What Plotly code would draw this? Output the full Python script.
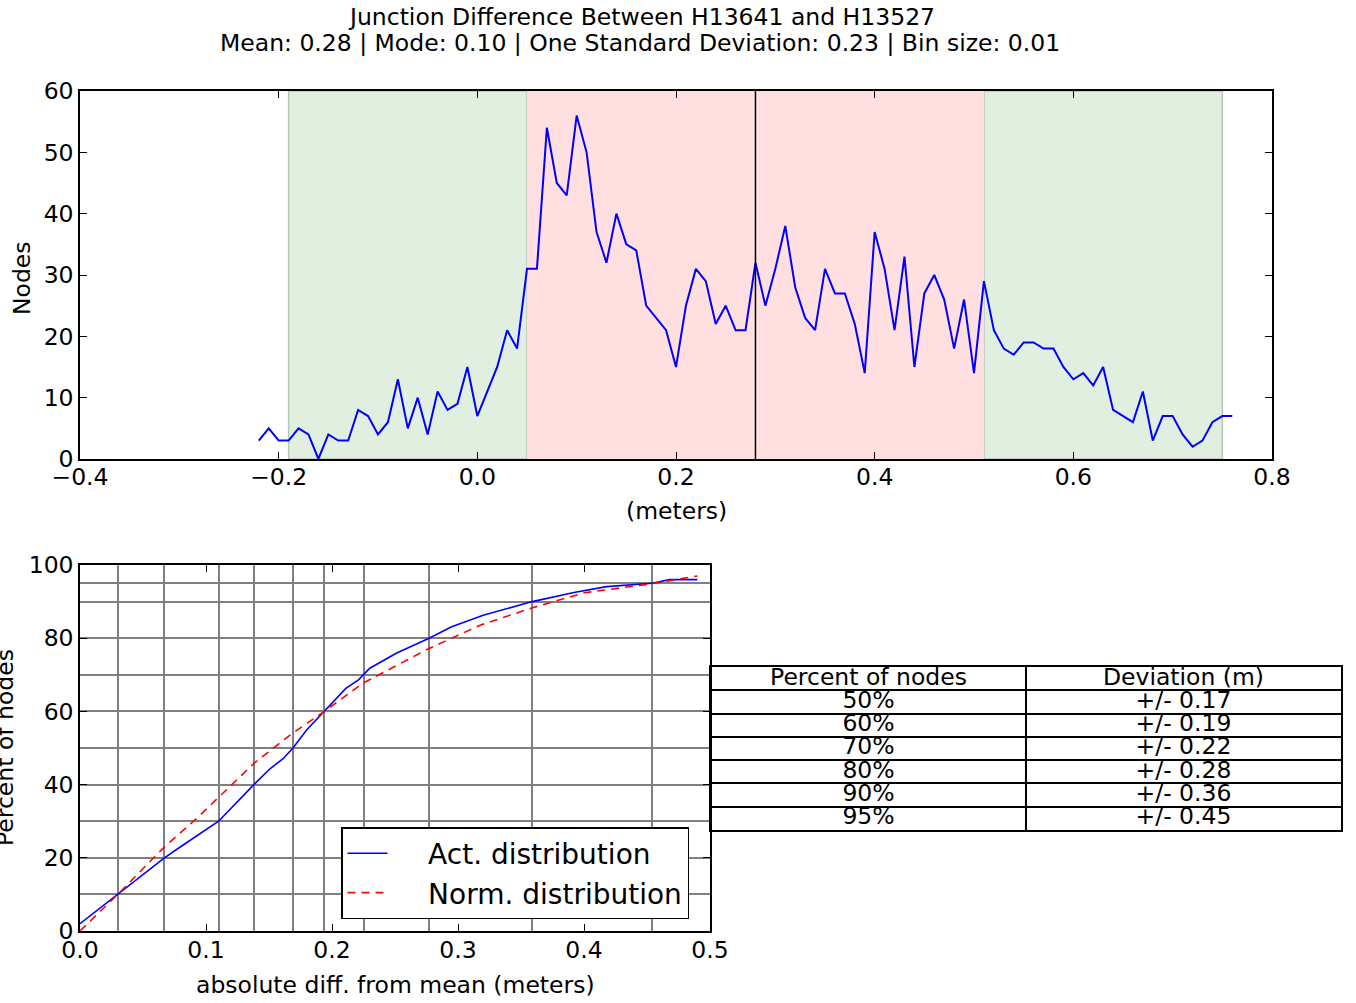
import plotly.graph_objects as go

# ---------------- data ----------------
bin_x = [-0.22, -0.21, -0.20, -0.19, -0.18, -0.17, -0.16, -0.15, -0.14, -0.13,
         -0.12, -0.11, -0.10, -0.09, -0.08, -0.07, -0.06, -0.05, -0.04, -0.03,
         -0.02, -0.01, 0.00, 0.01, 0.02, 0.03, 0.04, 0.05, 0.06, 0.07,
         0.08, 0.09, 0.10, 0.11, 0.12, 0.13, 0.14, 0.15, 0.16, 0.17,
         0.18, 0.19, 0.20, 0.21, 0.22, 0.23, 0.24, 0.25, 0.26, 0.27,
         0.28, 0.29, 0.30, 0.31, 0.32, 0.33, 0.34, 0.35, 0.36, 0.37,
         0.38, 0.39, 0.40, 0.41, 0.42, 0.43, 0.44, 0.45, 0.46, 0.47,
         0.48, 0.49, 0.50, 0.51, 0.52, 0.53, 0.54, 0.55, 0.56, 0.57,
         0.58, 0.59, 0.60, 0.61, 0.62, 0.63, 0.64, 0.65, 0.66, 0.67,
         0.68, 0.69, 0.70, 0.71, 0.72, 0.73, 0.74, 0.75, 0.76]
node_counts = [3, 5, 3, 3, 5, 4, 0, 4, 3, 3,
               8, 7, 4, 6, 13, 5, 10, 4, 11, 8,
               9, 15, 7, 11, 15, 21, 18, 31, 31, 54,
               45, 43, 56, 50, 37, 32, 40, 35, 34, 25,
               23, 21, 15, 25, 31, 29, 22, 25, 21, 21,
               32, 25, 31, 38, 28, 23, 21, 31, 27, 27,
               22, 14, 37, 31, 21, 33, 15, 27, 30, 26,
               18, 26, 14, 29, 21, 18, 17, 19, 19, 18,
               18, 15, 13, 14, 12, 15, 8, 7, 6, 11,
               3, 7, 7, 4, 2, 3, 6, 7, 7]

mean_value = 0.28
one_sd_band = [0.05, 0.51]
two_sd_band = [-0.19, 0.75]

act_x = [0.0, 0.030, 0.067, 0.081, 0.110, 0.138, 0.151, 0.161, 0.169, 0.180,
         0.194, 0.211, 0.221, 0.230, 0.251, 0.277, 0.295, 0.320, 0.359, 0.380,
         0.392, 0.418, 0.454, 0.468, 0.490]
act_y = [2.0, 10.0, 20.0, 23.3, 30.0, 40.0, 44.4, 47.0, 50.0, 55.0,
         60.0, 66.3, 68.6, 71.8, 75.9, 80.0, 83.1, 86.3, 90.0, 91.5,
         92.5, 94.1, 95.0, 96.0, 96.0]
norm_x = [0.0, 0.030, 0.067, 0.094, 0.110, 0.138, 0.167, 0.194, 0.225, 0.277,
          0.318, 0.359, 0.400, 0.454, 0.490]
norm_y = [0.0, 10.0, 23.0, 31.2, 36.5, 45.8, 53.6, 60.0, 67.8, 77.2,
          83.6, 88.3, 92.4, 94.9, 97.0]

pct_levels = [10, 20, 30, 40, 50, 60, 70, 80, 90, 95]
pct_devs = [0.030, 0.067, 0.110, 0.138, 0.169, 0.194, 0.225, 0.277, 0.359, 0.454]

table_header = ["Percent of nodes", "Deviation (m)"]
table_pct = ["50%", "60%", "70%", "80%", "90%", "95%"]
table_dev = ["+/- 0.17", "+/- 0.19", "+/- 0.22", "+/- 0.28", "+/- 0.36", "+/- 0.45"]

top_xticks = [-0.4, -0.2, 0.0, 0.2, 0.4, 0.6, 0.8]
top_xtick_text = ["\u22120.4", "\u22120.2", "0.0", "0.2", "0.4", "0.6", "0.8"]

# ---------------- layout helpers ----------------
W, H = 1356, 1003
def px_x(p):
    return p / W
def px_y(p):
    return 1 - p / H

FONT = "DejaVu Sans"
FS = 23.5

fig = go.Figure()

fig.add_trace(go.Scatter(x=bin_x, y=node_counts, mode="lines",
                         line=dict(color="#0000ff", width=2),
                         xaxis="x", yaxis="y", showlegend=False))

fig.add_trace(go.Scatter(x=act_x, y=act_y, mode="lines",
                         name="\u00a0\u00a0\u00a0\u00a0Act. distribution",
                         line=dict(color="#0000ff", width=1.6),
                         xaxis="x2", yaxis="y2"))
fig.add_trace(go.Scatter(x=norm_x, y=norm_y, mode="lines",
                         name="\u00a0\u00a0\u00a0\u00a0Norm. distribution",
                         line=dict(color="#ff0000", width=1.6, dash="8px,6px"),
                         xaxis="x2", yaxis="y2"))

# table drawn as text on its own row/column axes
col0 = [table_header[0]] + table_pct
col1 = [table_header[1]] + table_dev
rows = [i + 0.5 for i in range(len(col0))]
fig.add_trace(go.Scatter(x=[0.5] * len(col0), y=rows, text=col0, mode="text",
                         textposition="middle center",
                         textfont=dict(family=FONT, size=FS, color="black"),
                         xaxis="x3", yaxis="y3", showlegend=False, hoverinfo="skip"))
fig.add_trace(go.Scatter(x=[1.5] * len(col1), y=rows, text=col1, mode="text",
                         textposition="middle center",
                         textfont=dict(family=FONT, size=FS, color="black"),
                         xaxis="x3", yaxis="y3", showlegend=False, hoverinfo="skip"))

axis_common = dict(showline=True, linecolor="black", linewidth=1.5, mirror="ticks",
                   ticks="inside", ticklen=7, tickwidth=1.2, tickcolor="black",
                   zeroline=False, showgrid=False, automargin=False,
                   tickfont=dict(family=FONT, size=FS, color="black"))

table_axis = dict(showline=True, linecolor="black", linewidth=1.5, mirror=True,
                  ticks="", showticklabels=False, zeroline=False, automargin=False,
                  showgrid=True, gridcolor="black", gridwidth=1.5, fixedrange=True)

shapes = [
    dict(type="rect", xref="x", yref="y domain", x0=two_sd_band[0], x1=one_sd_band[0],
         y0=0, y1=1, fillcolor="#e0efe0", line=dict(color="#b8c8b8", width=1.5), layer="below"),
    dict(type="rect", xref="x", yref="y domain", x0=one_sd_band[1], x1=two_sd_band[1],
         y0=0, y1=1, fillcolor="#e0efe0", line=dict(color="#b8c8b8", width=1.5), layer="below"),
    dict(type="rect", xref="x", yref="y domain", x0=one_sd_band[0], x1=one_sd_band[1],
         y0=0, y1=1, fillcolor="#ffdfdf", line=dict(width=0), layer="below"),
    dict(type="line", xref="x", yref="y domain", x0=mean_value, x1=mean_value,
         y0=0, y1=1, line=dict(color="black", width=1.5)),
]

def label(text, x, y, angle=0):
    return dict(text=text, xref="paper", yref="paper", x=px_x(x), y=px_y(y),
                xanchor="center", yanchor="middle", textangle=angle, showarrow=False,
                font=dict(family=FONT, size=FS, color="black"))

annotations = [
    label("Junction Difference Between H13641 and H13527", 641, 17),
    label("Mean: 0.28 | Mode: 0.10 | One Standard Deviation: 0.23 | Bin size: 0.01", 640, 43),
    label("Nodes", 22, 278, -90),
    label("(meters)", 676, 511),
    label("Percent of nodes", 5, 748, -90),
    label("absolute diff. from mean (meters)", 395, 985),
]

fig.update_layout(
    width=W, height=H, autosize=False,
    margin=dict(l=0, r=0, t=0, b=0, pad=0, autoexpand=False),
    paper_bgcolor="white", plot_bgcolor="white",
    font=dict(family=FONT, size=FS, color="black"),
    xaxis=dict(domain=[px_x(80), px_x(1272)], range=[-0.4, 0.8], anchor="y",
               tickmode="array", tickvals=top_xticks, ticktext=top_xtick_text,
               ticklabelstandoff=-4, **axis_common),
    yaxis=dict(domain=[px_y(459), px_y(91)], range=[0, 60], anchor="x",
               tickmode="array", tickvals=[0, 10, 20, 30, 40, 50, 60], **axis_common),
    xaxis2=dict(domain=[px_x(80), px_x(710)], range=[0, 0.5], anchor="y2",
                tickmode="array", tickvals=[0, 0.1, 0.2, 0.3, 0.4, 0.5], tickformat=".1f",
                ticklabelstandoff=-3,
                minor=dict(tickmode="array", tickvals=pct_devs, showgrid=True,
                           gridcolor="#808080", gridwidth=1.5, ticks=""),
                **axis_common),
    yaxis2=dict(domain=[px_y(931), px_y(565)], range=[0, 100], anchor="x2",
                tickmode="array", tickvals=[0, 20, 40, 60, 80, 100],
                minor=dict(tickmode="array", tickvals=pct_levels, showgrid=True,
                           gridcolor="#808080", gridwidth=1.5, ticks=""),
                **axis_common),
    xaxis3=dict(domain=[px_x(711), px_x(1341)], range=[0, 2], anchor="y3",
                tickmode="array", tickvals=[1], **table_axis),
    yaxis3=dict(domain=[px_y(830), px_y(667)], range=[len(col0), 0], anchor="x3",
                tickmode="array", tickvals=list(range(1, len(col0))), **table_axis),
    legend=dict(x=px_x(341), y=px_y(827), xanchor="left", yanchor="top",
                bgcolor="white", bordercolor="black", borderwidth=1.5,
                font=dict(family=FONT, size=28, color="black"),
                itemwidth=40, tracegroupgap=4),
    shapes=shapes,
    annotations=annotations,
)
fig.update_yaxes(showgrid=True, gridcolor="#808080", gridwidth=1.5, selector=dict(anchor="x2"))

fig.write_html("out.html", config={"displayModeBar": False},
               post_script="document.body.style.margin='0';document.body.style.overflow='hidden';")
